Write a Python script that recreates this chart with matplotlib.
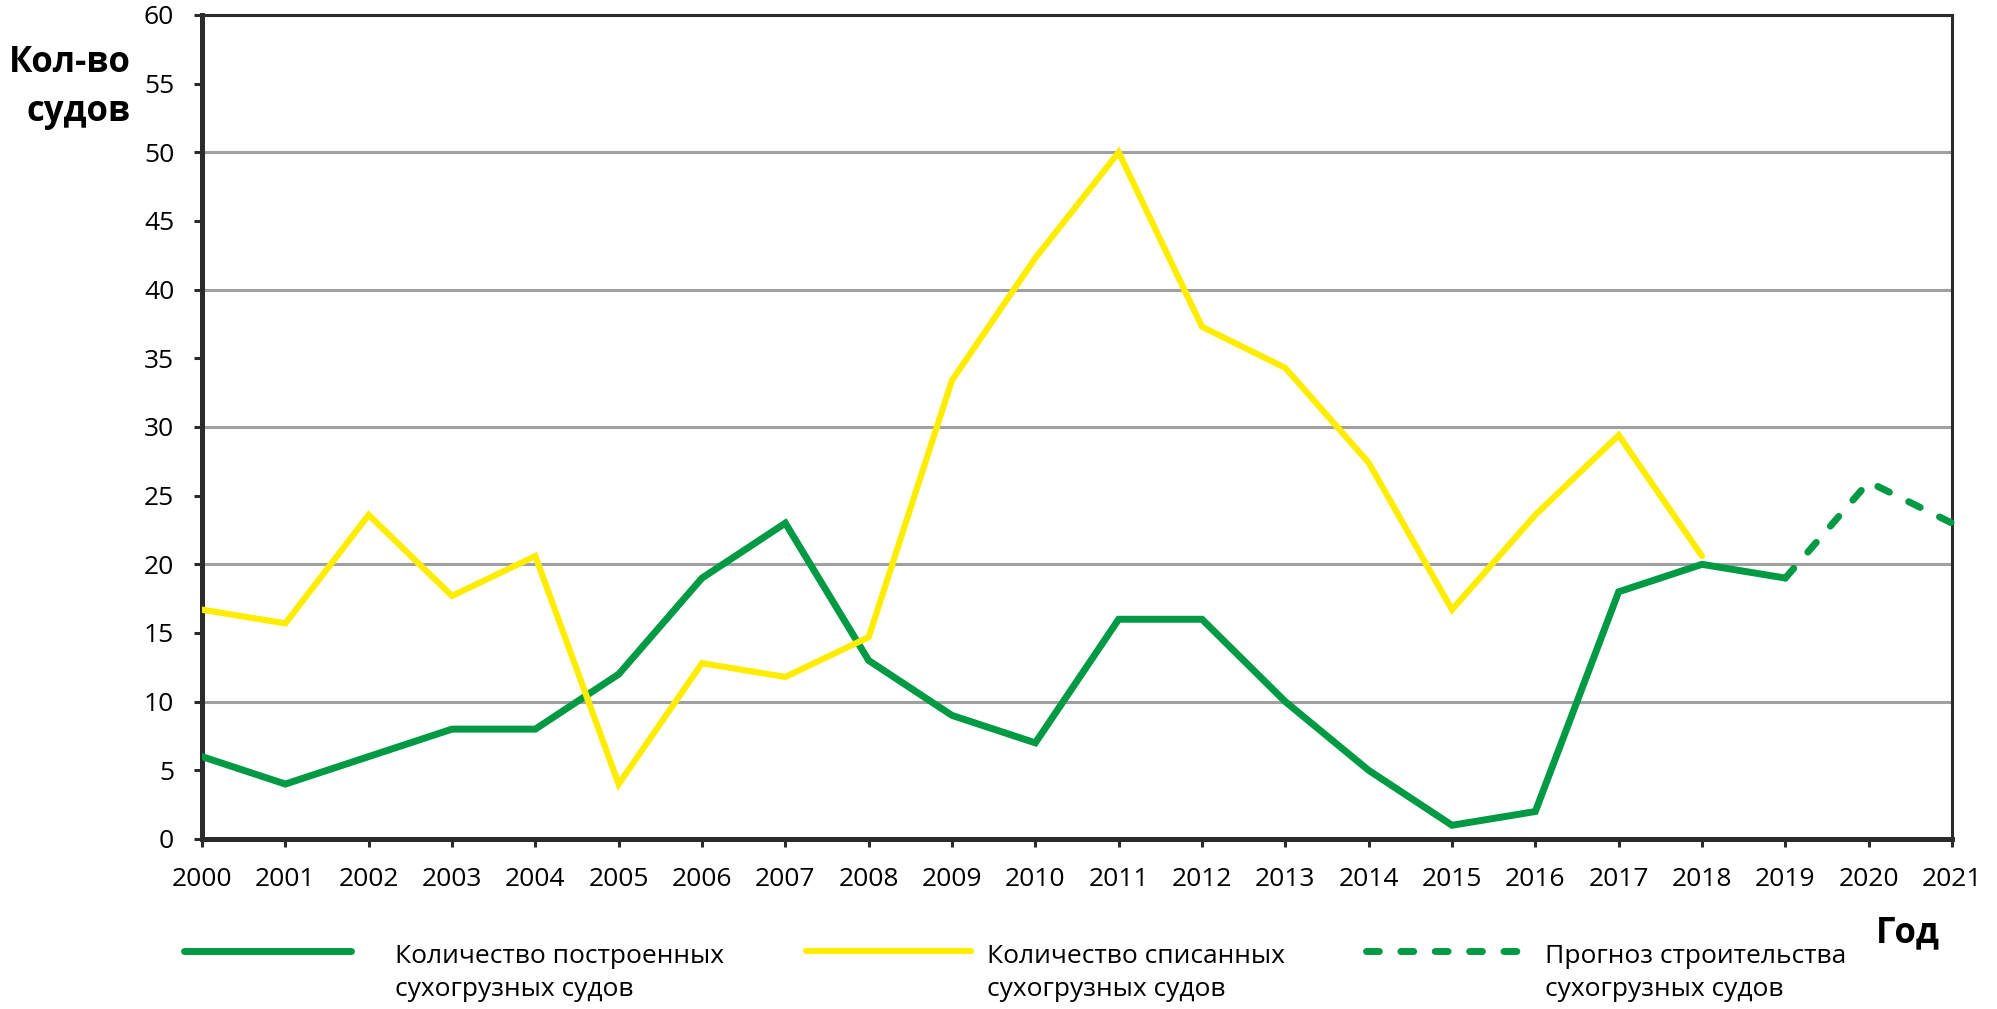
import matplotlib
matplotlib.use("Agg")
import numpy as np
import matplotlib.pyplot as plt
from matplotlib.legend_handler import HandlerLine2D

plt.rcParams['font.family'] = ['Open Sans', 'DejaVu Sans']

# Ships built per year
built_years = list(range(2000, 2020))
built = [6, 4, 6, 8, 8, 12, 19, 23, 13, 9, 7, 16, 16, 10, 5, 1, 2, 18, 20, 19]

# Ships scrapped per year
scrapped_years = list(range(2000, 2019))
scrapped = [16.7, 15.7, 23.6, 17.7, 20.6, 4.0, 12.8, 11.8, 14.7, 33.4, 42.3,
            50.0, 37.3, 34.3, 27.4, 16.7, 23.6, 29.4, 20.6]

# Construction forecast
forecast_years = [2019, 2020, 2021]
forecast = [19, 26, 23]

year_ticks = list(range(2000, 2022))
value_ticks = list(range(0, 61, 5))
grid_values = [10, 20, 30, 40, 50]

labels = ["Количество построенных\nсухогрузных судов",
          "Количество списанных\nсухогрузных судов",
          "Прогноз строительства\nсухогрузных судов"]

GREEN = "#009A44"
YELLOW = "#FFED00"
DARK = "#2b2b2b"
GRID = "#a0a0a0"


class FirstLineHandler(HandlerLine2D):
    """Legend key placed level with the first line of a two-line label."""

    def __init__(self, shift, **kw):
        super().__init__(**kw)
        self.shift = shift

    def create_artists(self, legend, orig_handle, xdescent, ydescent,
                       width, height, fontsize, trans):
        artists = super().create_artists(legend, orig_handle, xdescent,
                                         ydescent, width, height,
                                         fontsize, trans)
        for a in artists:
            a.set_ydata(np.asarray(a.get_ydata()) + self.shift)
        return artists


W, H = 1997, 1009
fig = plt.figure(figsize=(W / 100, H / 100), dpi=100)
ax = fig.add_axes([202 / W, 1 - 839 / H, 1750 / W, 824 / H])

for v in grid_values:
    ax.axhline(v, color=GRID, lw=2.2, zorder=1)

l_built, = ax.plot(built_years, built, color=GREEN, lw=5.0,
                   solid_joinstyle='miter', solid_capstyle='round', zorder=3)
l_scr, = ax.plot(scrapped_years, scrapped, color=YELLOW, lw=4.5,
                 solid_joinstyle='miter', solid_capstyle='round', zorder=4)
l_fc, = ax.plot(forecast_years, forecast, color=GREEN, lw=5.0,
                dashes=(1.85, 3.1), dash_capstyle='round', zorder=3,
                clip_on=False)

ax.set_xlim(2000, 2021)
ax.set_ylim(0, 60)
ax.set_xticks(year_ticks)
ax.set_yticks(value_ticks)
ax.tick_params(axis='both', which='major', direction='out', length=6,
               width=2.2, color=DARK, labelsize=19, labelcolor='black')
ax.tick_params(axis='y', pad=14)
ax.tick_params(axis='x', pad=14.5)

for side in ('left', 'bottom'):
    ax.spines[side].set_linewidth(3.6)
    ax.spines[side].set_color(DARK)
for side in ('top', 'right'):
    ax.spines[side].set_linewidth(2.2)
    ax.spines[side].set_color(DARK)

fig.text(131 / W, 1 - 72 / H, "Кол-во", ha='right', va='baseline',
         fontsize=25, fontweight='bold')
fig.text(131 / W, 1 - 121 / H, "судов", ha='right', va='baseline',
         fontsize=25, fontweight='bold')
fig.text(1940 / W, 1 - 942 / H, "Год", ha='right', va='baseline',
         fontsize=25, fontweight='bold')

# Legend: one entry per block, each with its own key length and text gap
entries = [
    (l_built, labels[0], 183.5, 6.33, 1.69),
    (l_scr, labels[1], 805.5, 6.29, 0.59),
    (l_fc, labels[2], 1365.5, 5.90, 0.89),
]
for handle, label, x, hlen, hpad in entries:
    leg = fig.legend(handles=[handle], labels=[label], loc='center left',
                     bbox_to_anchor=(x / W, 1 - 973 / H), frameon=False,
                     borderpad=0, borderaxespad=0, handlelength=hlen,
                     handletextpad=hpad, fontsize=19,
                     handler_map={handle: FirstLineHandler(15.8)})
    for t in leg.get_texts():
        t.set_linespacing(1.38)
    for h in leg.legend_handles:
        h.set_solid_capstyle('round')

fig.savefig("out.png", dpi=100)
